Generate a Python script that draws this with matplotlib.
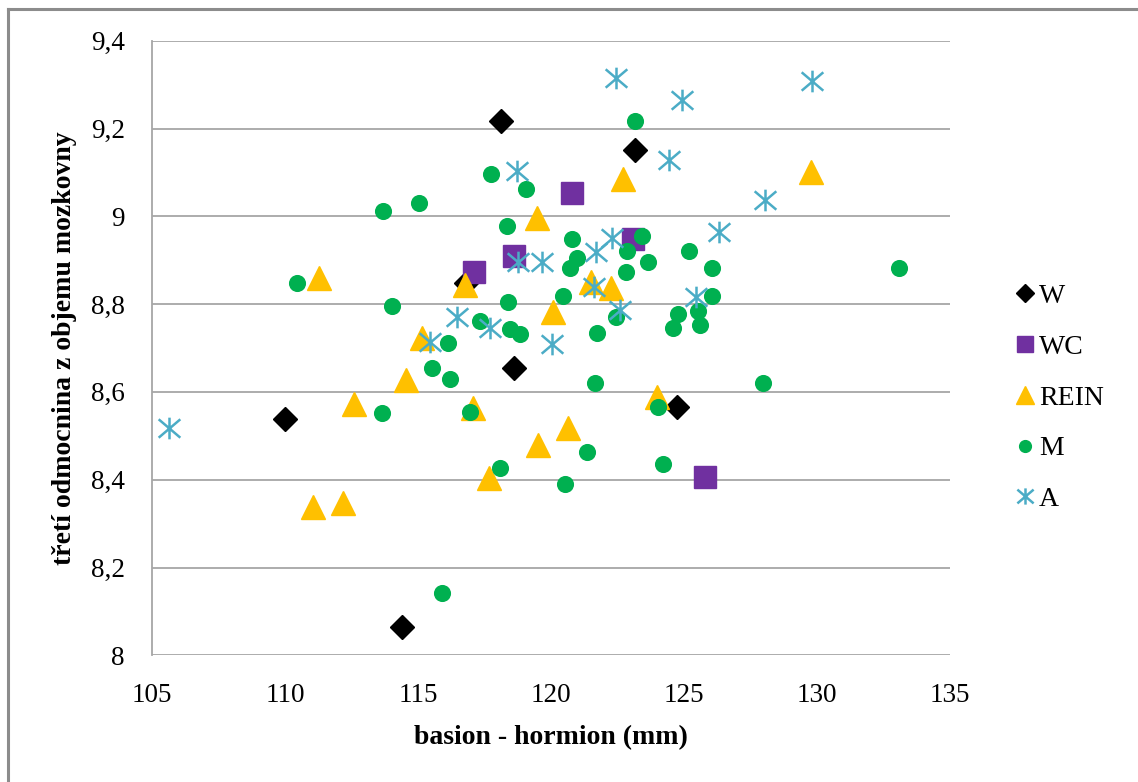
import numpy as np
import matplotlib
matplotlib.use("Agg")
import matplotlib.pyplot as plt
from matplotlib.path import Path
from matplotlib.lines import Line2D
from matplotlib.ticker import FuncFormatter, MultipleLocator

# --- data: basion - hormion (mm) vs cube root of brain volume ---
w_x = [118.12, 123.16, 116.8, 118.6, 110.0, 124.74, 114.4]
w_y = [9.217, 9.151, 8.848, 8.654, 8.538, 8.565, 8.064]

wc_x = [120.8, 118.62, 117.1, 123.1, 125.79]
wc_y = [9.052, 8.910, 8.872, 8.948, 8.407]

rein_x = [111.28, 119.49, 122.72, 116.77, 121.49, 122.24, 120.06, 115.14, 129.76,
          114.54, 112.6, 111.07, 112.19, 117.06, 120.63, 119.5, 117.68, 123.97]
rein_y = [8.859, 8.995, 9.085, 8.843, 8.851, 8.836, 8.783, 8.722, 9.10,
          8.627, 8.572, 8.338, 8.348, 8.563, 8.517, 8.479, 8.405, 8.589]

m_x = [113.67, 115.05, 110.46, 114.03, 123.16, 117.73, 119.05, 118.33, 120.78, 123.41,
       120.97, 120.71, 122.87, 123.66, 122.81, 120.46, 118.40, 117.33, 118.46, 118.83,
       116.14, 121.74, 122.44, 124.57, 124.79, 125.20, 126.06, 133.07, 126.06, 125.51,
       125.60, 127.98, 124.01, 124.22, 115.54, 116.20, 121.65, 116.95, 121.34, 118.08,
       120.53, 115.91, 113.66]
m_y = [9.013, 9.031, 8.847, 8.796, 9.217, 9.096, 9.062, 8.979, 8.948, 8.955,
       8.906, 8.882, 8.922, 8.897, 8.872, 8.819, 8.804, 8.762, 8.743, 8.733,
       8.711, 8.735, 8.771, 8.745, 8.777, 8.922, 8.882, 8.882, 8.819, 8.785,
       8.752, 8.620, 8.565, 8.435, 8.654, 8.629, 8.620, 8.555, 8.462, 8.426,
       8.390, 8.143, 8.553]

a_x = [122.44, 124.94, 118.73, 124.45, 129.82, 128.05, 126.32, 125.44, 122.28, 121.69,
       119.65, 118.77, 121.62, 122.59, 116.45, 117.71, 115.45, 120.03, 105.65]
a_y = [9.316, 9.265, 9.104, 9.128, 9.309, 9.037, 8.964, 8.817, 8.950, 8.919,
       8.897, 8.897, 8.840, 8.787, 8.771, 8.745, 8.714, 8.708, 8.517]

plt.rcParams['font.family'] = ['Liberation Serif', 'DejaVu Serif']

# Excel-like asterisk: vertical bar plus two diagonals
star = Path([(0, -1), (0, 1), (-1, -0.85), (1, 0.85), (-1, 0.85), (1, -0.85)],
            [Path.MOVETO, Path.LINETO, Path.MOVETO, Path.LINETO, Path.MOVETO, Path.LINETO])

fig = plt.figure(figsize=(11.38, 7.82), dpi=100)
ax = fig.add_axes([152 / 1138, 1 - 655.3 / 782, (950 - 152) / 1138, (655.3 - 40.7) / 782])

ax.plot(w_x, w_y, ls='none', marker='D', ms=11.8, color='black', mec='black', label='W')
ax.plot(wc_x, wc_y, ls='none', marker='s', ms=16, color='#7030A0', mec='#7030A0', label='WC')
ax.plot(rein_x, rein_y, ls='none', marker='^', ms=17, color='#FFC000', mec='#FFC000', label='REIN')
ax.plot(m_x, m_y, ls='none', marker='o', ms=11.3, color='#00B050', mec='#00B050', label='M')
ax.plot(a_x, a_y, ls='none', marker=star, ms=15.6, mew=1.8, mfc='none', color='#4BACC6', label='A')

ax.set_xlim(105, 135)
ax.set_ylim(8, 9.4)
ax.xaxis.set_major_locator(MultipleLocator(5))
ax.yaxis.set_major_locator(MultipleLocator(0.2))
ax.yaxis.set_major_formatter(FuncFormatter(lambda v, p: f"{v:g}".replace('.', ',')))

ax.grid(axis='y', color='#A6A6A6', linewidth=1.3)
ax.set_axisbelow(True)
for s in ['top', 'right', 'bottom']:
    ax.spines[s].set_visible(False)
ax.spines['left'].set_color('#A6A6A6')
ax.spines['left'].set_linewidth(1.3)
ax.tick_params(length=0, labelsize=19.5)
ax.tick_params(axis='y', pad=19.5)
ax.tick_params(axis='x', pad=20)

ax.set_xlabel('basion - hormion (mm)', fontsize=20, fontweight='bold', labelpad=12)
ax.set_ylabel('třetí odmocnina z objemu mozkovny', fontsize=20, fontweight='bold', labelpad=10)

ax.legend(loc='center left', bbox_to_anchor=(1.07, 0.419), frameon=False, fontsize=20,
          markerscale=0.75, handlelength=0.6, handletextpad=0.2, labelspacing=0.91,
          borderaxespad=0)

# chart area border (only left and top visible in the crop)
fig.add_artist(Line2D([8 / 1138, 8 / 1138], [0, 1 - 9 / 782], transform=fig.transFigure,
                      color='#8C8C8C', lw=2.2))
fig.add_artist(Line2D([8 / 1138, 1], [1 - 9 / 782, 1 - 9 / 782], transform=fig.transFigure,
                      color='#8C8C8C', lw=2.2))

fig.savefig('out.png', dpi=100)
